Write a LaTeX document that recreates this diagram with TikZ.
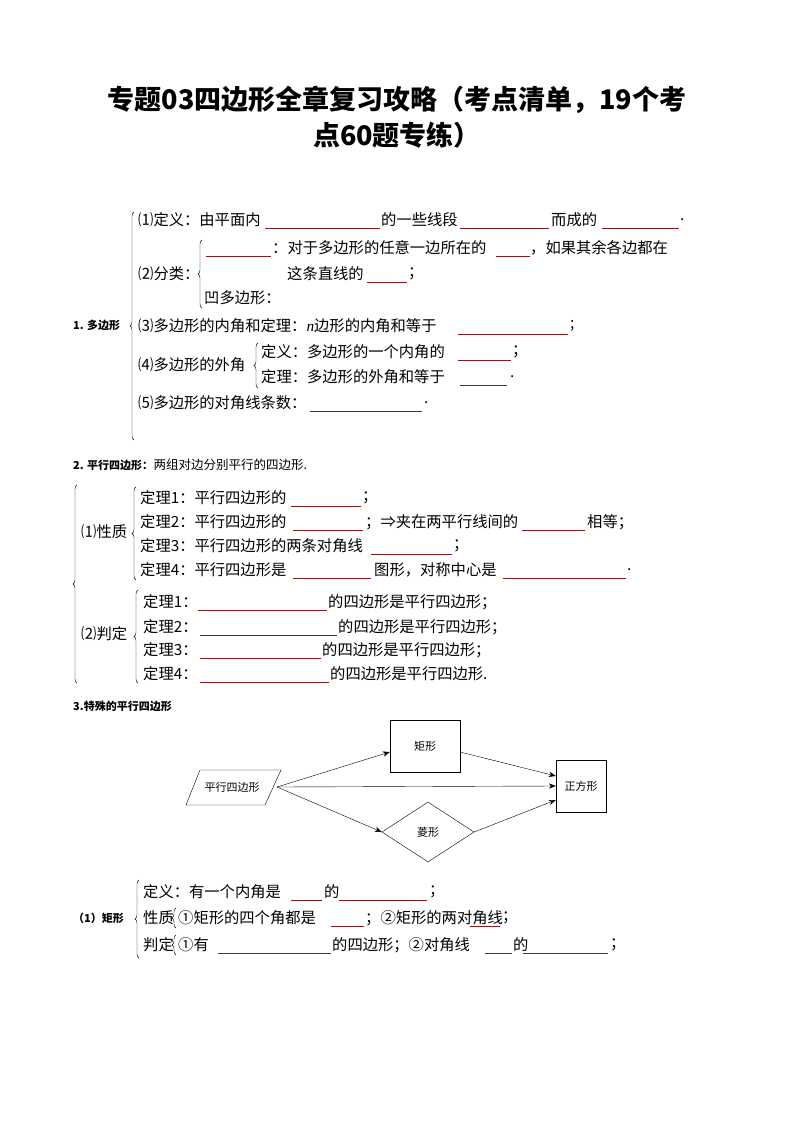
\documentclass[tikz,border=0pt]{standalone}
\usepackage{fontspec}
\setmainfont{Liberation Serif}
\newfontfamily\cjk{Noto Sans CJK SC}
\usetikzlibrary{decorations.pathreplacing,shapes.geometric,arrows.meta}
\definecolor{blk}{HTML}{8B1A1A}
\tikzset{tx/.style={anchor=west,inner sep=0pt,font=\cjk\fontsize{15.3}{17}\selectfont},
 bd/.style={anchor=west,inner sep=0pt,font=\cjk\bfseries\fontsize{11}{13}\selectfont},
 br/.style={decorate,decoration={brace,amplitude=4pt},thin},
 box/.style={draw,thin,font=\cjk\fontsize{11}{13}\selectfont,inner sep=2pt},
 ar/.style={-{Stealth[length=7pt]},thin}}
\newcommand{\blk}[3]{\draw[blk,line width=0.8pt] (#1,#3+8) -- (#2,#3+8);}
\begin{document}
\begin{tikzpicture}[x=1pt,y=-1pt]
\useasboundingbox (0,0) rectangle (794,1123);
\node[font=\cjk\bfseries\fontsize{27}{32}\selectfont,inner sep=0pt] (T1) at (397,100) {专题03四边形全章复习攻略（考点清单，19个考};
\node[font=\cjk\bfseries\fontsize{27}{32}\selectfont,inner sep=0pt] (T2) at (397,135) {点60题专练）};
% section 1
\node[bd] (s1) at (73,325) {1. 多边形};
\draw[br] (134,440) -- (134,212);
\node[tx] (a1) at (138,220) {⑴定义：由平面内}; \blk{265}{380}{220}
\node[tx] (a2) at (381,220) {的一些线段}; \blk{460}{549}{220}
\node[tx] (a3) at (551,220) {而成的}; \blk{602}{679}{220}
\node[tx] (a4) at (680,220) {.};
\node[tx] (b0) at (138,274) {⑵分类：};
\draw[br] (202,308) -- (202,240);
\blk{206}{271}{248}
\node[tx] (b1) at (272,248) {：对于多边形的任意一边所在的}; \blk{496}{530}{248}
\node[tx] (b2) at (530,248) {，如果其余各边都在};
\node[tx] (b3) at (287,274) {这条直线的}; \blk{367}{407}{274}
\node[tx] (b4) at (408,274) {；};
\node[tx] (b5) at (204,298) {凹多边形：};
\node[tx] (c1) at (138,326) {⑶多边形的内角和定理：\textit{\rmfamily n}边形的内角和等于}; \blk{458}{568}{326}
\node[tx] (c2) at (570,326) {;};
\node[tx] (d0) at (138,365) {⑷多边形的外角};
\draw[br] (258,388) -- (258,343);
\node[tx] (d1) at (261,352) {定义：多边形的一个内角的}; \blk{458}{511}{352}
\node[tx] (d2) at (512,352) {；};
\node[tx] (d3) at (261,377) {定理：多边形的外角和等于}; \blk{460}{507}{377}
\node[tx] (d4) at (510,377) {.};
\node[tx] (e1) at (138,403) {⑸多边形的对角线条数：}; \blk{310}{422}{403}
\node[tx] (e2) at (424,403) {.};
% section 2
\node[bd] (s2) at (73,465) {2. 平行四边形：}; \node[tx,font=\cjk\fontsize{12.5}{14}\selectfont] (s2b) at (s2.east) {两组对边分别平行的四边形.};
\draw[br] (77,683) -- (77,485);
\node[tx] (p0) at (81,532) {⑴性质};
\draw[br] (136,580) -- (136,487);
\node[tx] (p1) at (140,498) {定理1：平行四边形的}; \blk{291}{361}{498}
\node[tx] (p1b) at (362,498) {；};
\node[tx] (p2) at (140,522) {定理2：平行四边形的}; \blk{293}{363}{522}
\node[tx] (p2b) at (365,522) {；⇒夹在两平行线间的}; \blk{522}{585}{522}
\node[tx] (p2c) at (587,522) {相等；};
\node[tx] (p3) at (140,546) {定理3：平行四边形的两条对角线}; \blk{371}{452}{546}
\node[tx] (p3b) at (453,546) {；};
\node[tx] (p4) at (140,570) {定理4：平行四边形是}; \blk{293}{371}{570}
\node[tx] (p4b) at (374,570) {图形，对称中心是}; \blk{503}{626}{570}
\node[tx] (p4c) at (627,570) {.};
\node[tx] (q0) at (81,634) {⑵判定};
\draw[br] (138,683) -- (138,590);
\node[tx] (q1) at (143,602) {定理1：}; \blk{198}{327}{602}
\node[tx] (q1b) at (328,602) {的四边形是平行四边形；};
\node[tx] (q2) at (143,627) {定理2：}; \blk{200}{337}{627}
\node[tx] (q2b) at (338,627) {的四边形是平行四边形；};
\node[tx] (q3) at (143,650) {定理3：}; \blk{200}{321}{650}
\node[tx] (q3b) at (322,650) {的四边形是平行四边形；};
\node[tx] (q4) at (143,674) {定理4：}; \blk{200}{329}{674}
\node[tx] (q4b) at (330,674) {的四边形是平行四边形.};
% section 3
\node[bd] (s3) at (73,706) {3.特殊的平行四边形};
\node[font=\cjk\fontsize{11}{13}\selectfont,inner sep=0pt] (pg) at (232,787) {平行四边形};
\draw[thin] (200,770) -- (281,770) -- (265,805) -- (186,805) -- cycle;
\coordinate (pgE) at (277,787);
\node[box,minimum width=70pt,minimum height=52pt] (jx) at (425,746) {矩形};
\node[box,diamond,aspect=1.55,minimum width=92pt,minimum height=60pt,inner sep=0pt] (lx) at (428,832) {菱形};
\node[box,minimum width=50pt,minimum height=52pt] (zf) at (581,786) {正方形};
\draw[ar] (pgE) -- (jx.west|-0,752);
\draw[ar] (pgE) -- (zf.west);
\draw[ar] (pgE) -- (lx.west);
\draw[ar] (jx.east|-0,752) -- (zf.west|-0,776);
\draw[ar] (lx.east) -- (zf.west|-0,800);
% rectangle
\node[bd] (r0) at (73,918) {（1）矩形};
\draw[br] (139,958) -- (139,880);
\node[tx] (r1) at (143,892) {定义：有一个内角是}; \blk{291}{322}{892}
\node[tx] (r1b) at (324,892) {的}; \blk{339}{427}{892}
\node[tx] (r1c) at (429,892) {；};
\node[tx] (r2) at (143,918) {性质};
\draw[br] (176,928) -- (176,908);
\node[tx] (r2b) at (178,918) {①矩形的四个角都是}; \blk{331}{364}{918}
\node[tx] (r2c) at (365,918) {；②矩形的两对角线}; \blk{470}{500}{918}
\node[tx] (r2d) at (502,918) {；};
\node[tx] (r3) at (143,945) {判定};
\draw[br] (176,955) -- (176,935);
\node[tx] (r3b) at (178,945) {①有}; \blk{218}{331}{945}
\node[tx] (r3c) at (332,945) {的四边形；②对角线}; \blk{485}{512}{945}
\node[tx] (r3d) at (513,945) {的}; \blk{523}{608}{945}
\node[tx] (r3e) at (610,945) {；};
\end{tikzpicture}
\end{document}
